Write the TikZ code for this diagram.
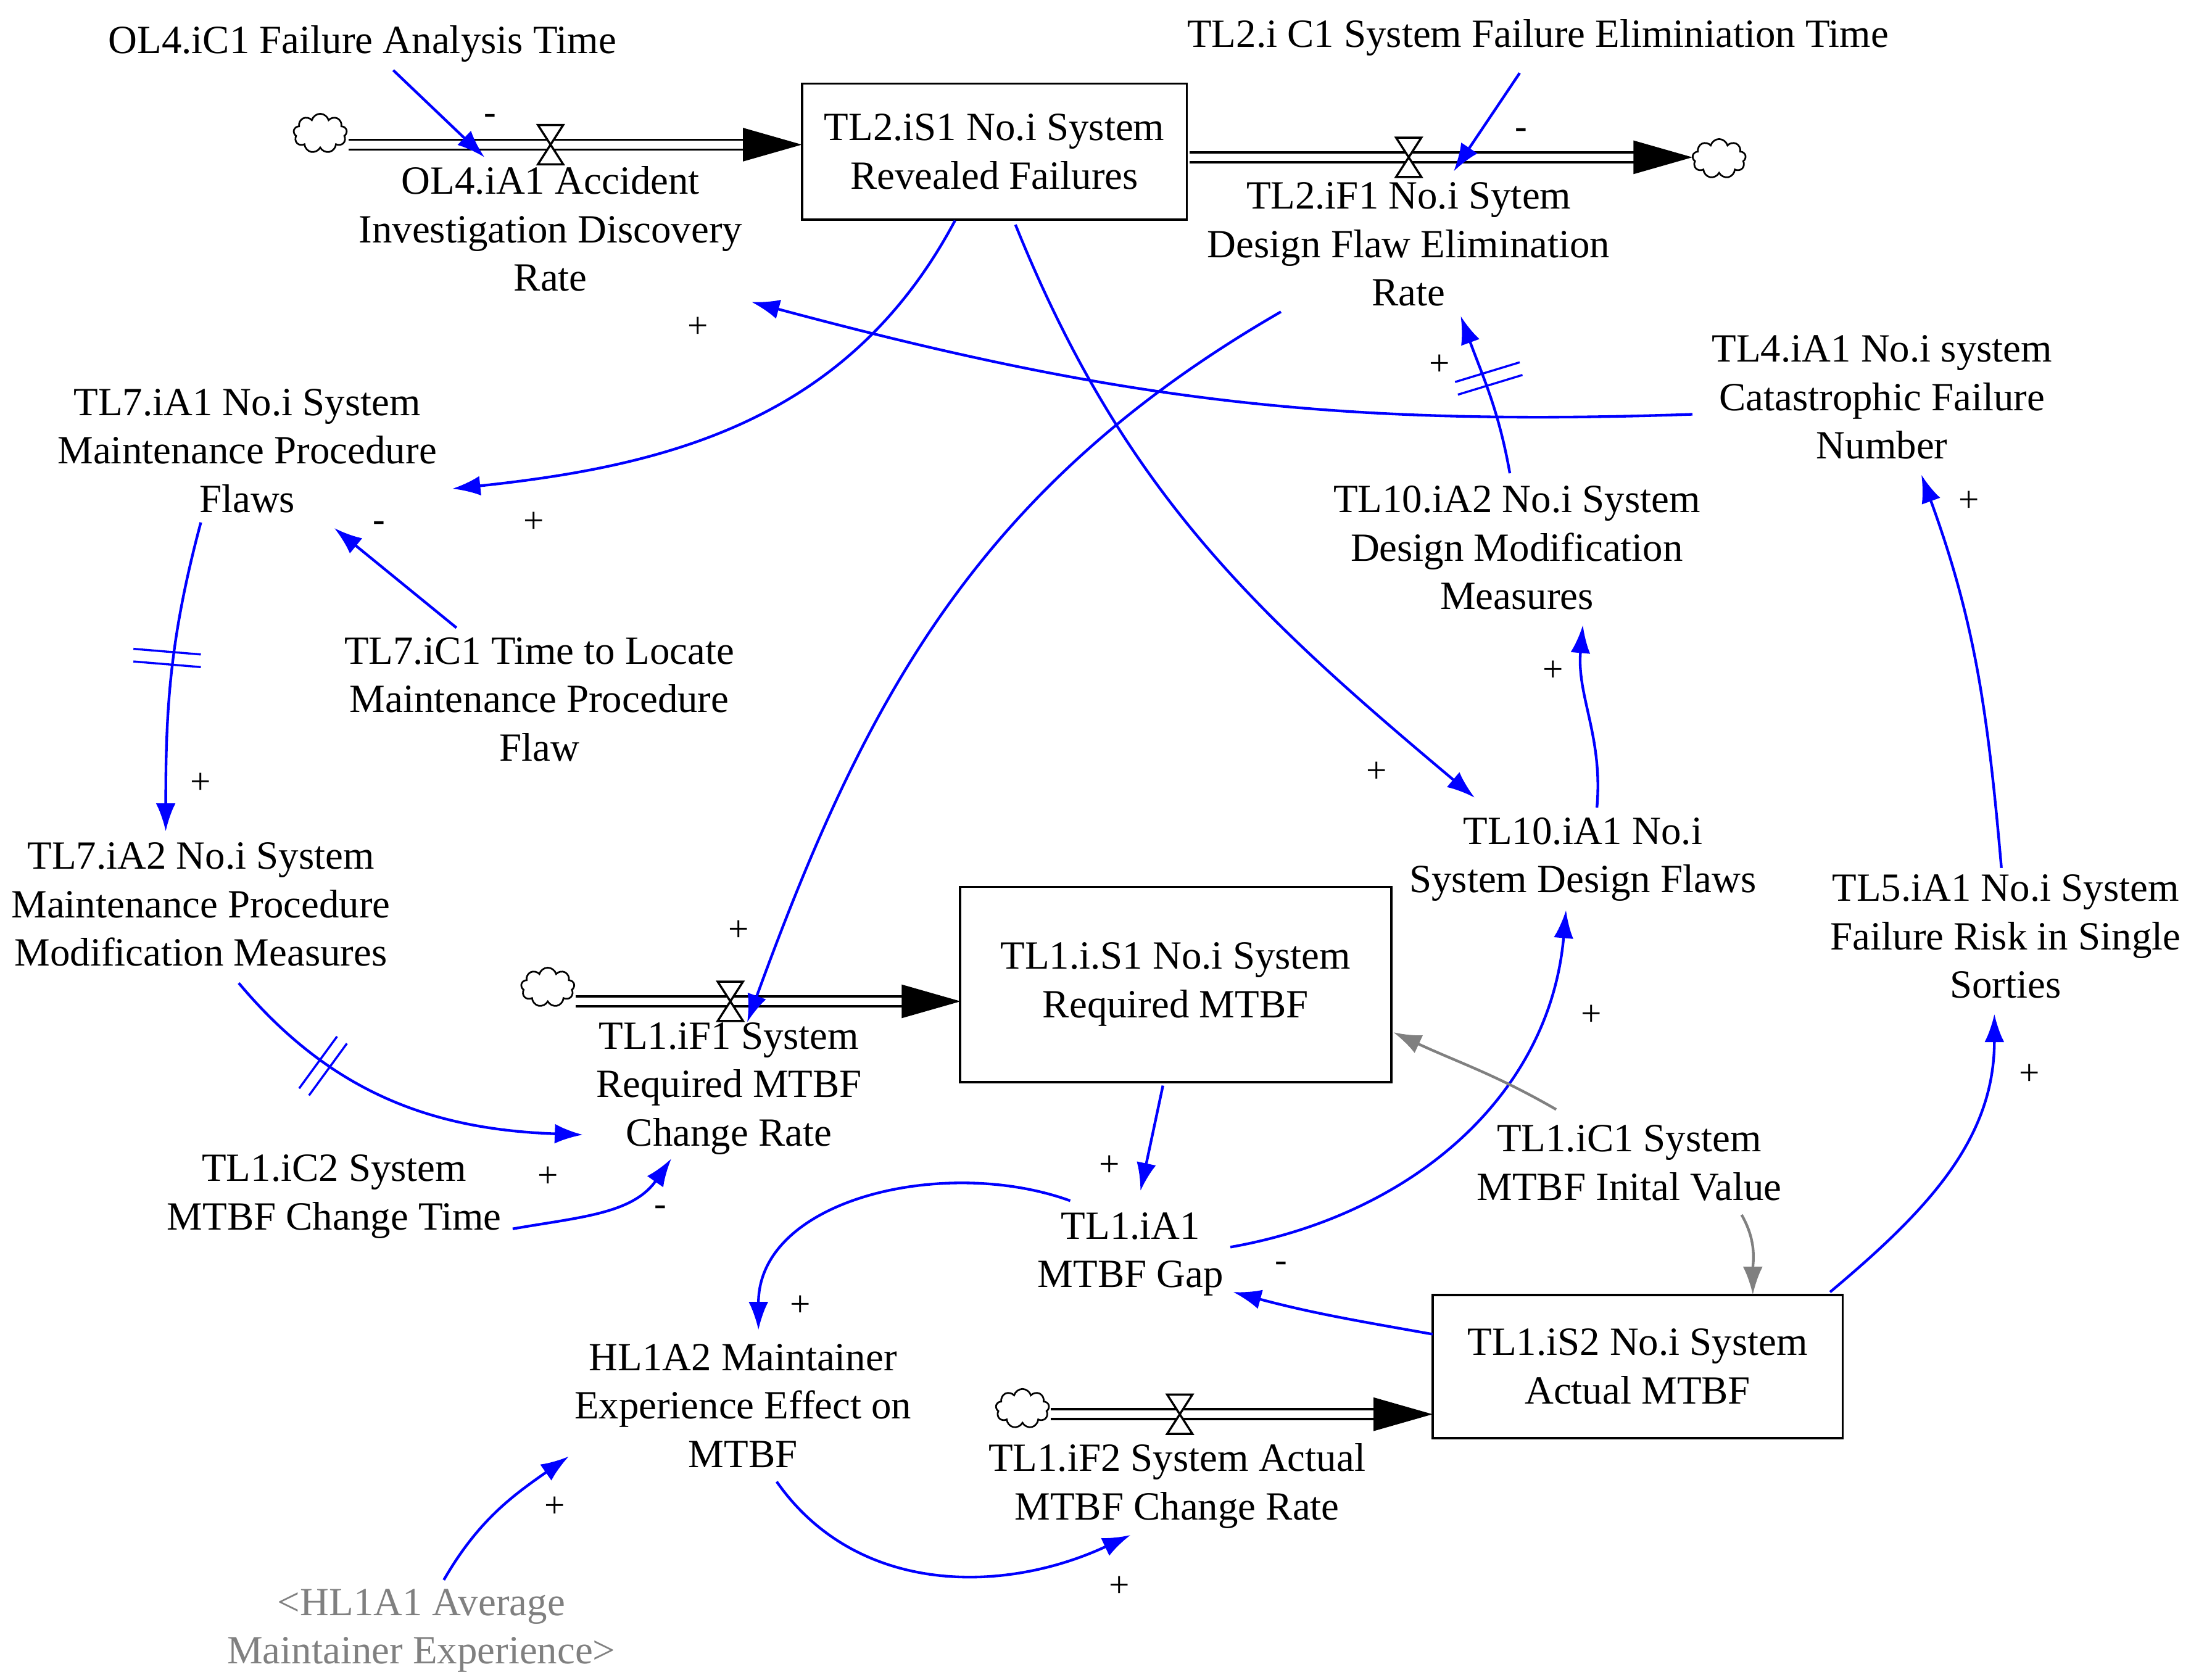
\documentclass[tikz,border=0pt]{standalone}
\usepackage{fontspec}
\setmainfont{Liberation Serif}
\usetikzlibrary{arrows.meta,shapes.symbols}
\begin{document}
\begin{tikzpicture}[x=1pt,y=-1pt,
  every node/.style={font=\fontsize{28.5}{34.5}\selectfont},
  lbl/.style={align=center,inner sep=1pt},
  stock/.style={draw,line width=1.6pt,minimum width=#1,align=center,inner sep=2pt},
  blue arr/.style={draw=blue,line width=1.9pt,-{Latex[length=20pt,width=14pt]}},
  gray arr/.style={draw=gray,line width=1.9pt,-{Latex[length=20pt,width=14pt]}},
  cl/.style={cloud,draw,cloud puffs=9,minimum width=38pt,minimum height=28pt,inner sep=0pt,line width=1.2pt},
  sg/.style={font=\fontsize{26}{28}\selectfont}]
\useasboundingbox (0,0) rectangle (1560,1196);
\newcommand\pipe[4]{% y, x1, x2, valve x
  \draw[line width=1.6pt] (#2,#1-3.5) -- (#3-40,#1-3.5) (#2,#1+3.5) -- (#3-40,#1+3.5);
  \fill (#3-42,#1-12) -- (#3,#1) -- (#3-42,#1+12) -- cycle;
  \draw[line width=1.5pt,fill=white] (#4-9,#1-14) -- (#4+9,#1-14) -- (#4-9,#1+14) -- (#4+9,#1+14) -- cycle;}
% stocks
\node[stock=274pt,minimum height=97pt] (S1) at (708,108) {TL2.iS1 No.i System\\Revealed Failures};
\node[stock=307pt,minimum height=139pt] (R1) at (837,701) {TL1.i.S1 No.i System\\Required MTBF};
\node[stock=292pt,minimum height=102pt] (A1) at (1166,973) {TL1.iS2 No.i System\\Actual MTBF};
% clouds
\node[cl] (c1) at (228,95) {};
\node[cl] (c2) at (1224,113) {};
\node[cl] (c3) at (390,703) {};
\node[cl] (c4) at (728,1003) {};
\pipe{103}{248}{571}{392}
\pipe{112}{847}{1205}{1003}
\pipe{713}{410}{684}{520}
\pipe{1007}{748}{1020}{840}
% labels
\node[lbl] (OL4C1) at (258,31) {OL4.iC1 Failure Analysis Time};
\node[lbl] (OL4A1) at (392,163) {OL4.iA1 Accident\\Investigation Discovery\\Rate};
\node[lbl] (TL2C1) at (1095,27) {TL2.i C1 System Failure Eliminiation Time};
\node[lbl] (TL2F1) at (1003,174) {TL2.iF1 No.i Sytem\\Design Flaw Elimination\\Rate};
\node[lbl] (TL4) at (1340,283) {TL4.iA1 No.i system\\Catastrophic Failure\\Number};
\node[lbl] (TL7A1) at (176,321) {TL7.iA1 No.i System\\Maintenance Procedure\\Flaws};
\node[lbl] (TL7C1) at (384,498) {TL7.iC1 Time to Locate\\Maintenance Procedure\\Flaw};
\node[lbl] (TL10A2) at (1080,390) {TL10.iA2 No.i System\\Design Modification\\Measures};
\node[lbl] (TL7A2) at (143,644) {TL7.iA2 No.i System\\Maintenance Procedure\\Modification Measures};
\node[lbl] (TL10A1) at (1127,612) {TL10.iA1 No.i\\System Design Flaws};
\node[lbl] (TL5) at (1428,667) {TL5.iA1 No.i System\\Failure Risk in Single\\Sorties};
\node[lbl] (TL1F1) at (519,775) {TL1.iF1 System\\Required MTBF\\Change Rate};
\node[lbl] (TL1C1) at (1160,828) {TL1.iC1 System\\MTBF Inital Value};
\node[lbl] (TL1C2) at (238,852) {TL1.iC2 System\\MTBF Change Time};
\node[lbl] (Gap) at (805,893) {TL1.iA1\\MTBF Gap};
\node[lbl] (HL2) at (529,1001) {HL1A2 Maintainer\\Experience Effect on\\MTBF};
\node[lbl] (TL1F2) at (838,1058) {TL1.iF2 System Actual\\MTBF Change Rate};
\node[lbl,text=gray] (HL1) at (300,1161) {<HL1A1 Average\\Maintainer Experience>};
% coordinates for connector ends
\coordinate (v1) at (345,112); \coordinate (v2) at (1035,122);
\coordinate (v3) at (532,728); \coordinate (o1) at (280,50);
% connectors
\draw[blue arr] (o1) -- (v1);
\draw[blue arr] (1082,52) -- (v2);
\draw[blue arr] (1205,295) to[out=182,in=-15] (535,215);
\draw[blue arr] (680,157) to[out=-118,in=6] (322,348);
\draw[blue arr] (325,447) -- (238,376);
\draw[blue arr] (143,372) to[out=-105,in=90] (118,592);
\draw[blue arr] (170,700) to[out=-50,in=178] (415,808);
\draw[blue arr] (365,875) to[out=10,in=-125] (478,825);
\draw[blue arr] (912,222) to[out=210,in=70] (v3);
\draw[blue arr] (723,160) to[out=-68,in=140] (1050,568);
\draw[blue arr] (1137,575) to[out=85,in=-95] (1127,445);
\draw[blue arr] (1075,337) to[out=100,in=-70] (1040,225);
\draw[blue arr] (828,773) -- (812,848);
\draw[blue arr] (876,888) to[out=10,in=-95] (1115,648);
\draw[blue arr] (762,855) to[out=160,in=90] (540,947);
\draw[gray arr] (1108,790) to[out=150,in=-25] (992,735);
\draw[gray arr] (1240,865) to[out=-60,in=90] (1248,922);
\draw[blue arr] (1020,950) to[out=170,in=-15] (878,920);
\draw[blue arr] (1303,920) to[out=40,in=-90] (1420,722);
\draw[blue arr] (1425,618) to[out=95,in=-70] (1368,338);
\draw[blue arr] (553,1055) to[out=-55,in=-155] (805,1093);
\draw[blue arr] (316,1125) to[out=60,in=-145] (405,1037);
% delay marks
\draw[blue,line width=1.5pt] (1036,272)--(1082,258) (1038,281)--(1084,267);
\draw[blue,line width=1.5pt] (95,462)--(143,466) (95,471)--(143,475);
\draw[blue,line width=1.5pt] (213,775)--(240,738) (220,780)--(247,743);
% signs
\node[sg] at (349,85) {-}; \node[sg] at (1083,95) {-};
\node[sg] at (497,233) {+}; \node[sg] at (380,372) {+};
\node[sg] at (270,375) {-}; \node[sg] at (143,558) {+};
\node[sg] at (390,838) {+}; \node[sg] at (470,862) {-};
\node[sg] at (526,663) {+}; \node[sg] at (980,550) {+};
\node[sg] at (1106,478) {+}; \node[sg] at (1025,260) {+};
\node[sg] at (790,830) {+}; \node[sg] at (1133,723) {+};
\node[sg] at (570,930) {+}; \node[sg] at (912,902) {-};
\node[sg] at (1445,765) {+}; \node[sg] at (1402,357) {+};
\node[sg] at (797,1130) {+}; \node[sg] at (395,1073) {+};
\end{tikzpicture}
\end{document}
